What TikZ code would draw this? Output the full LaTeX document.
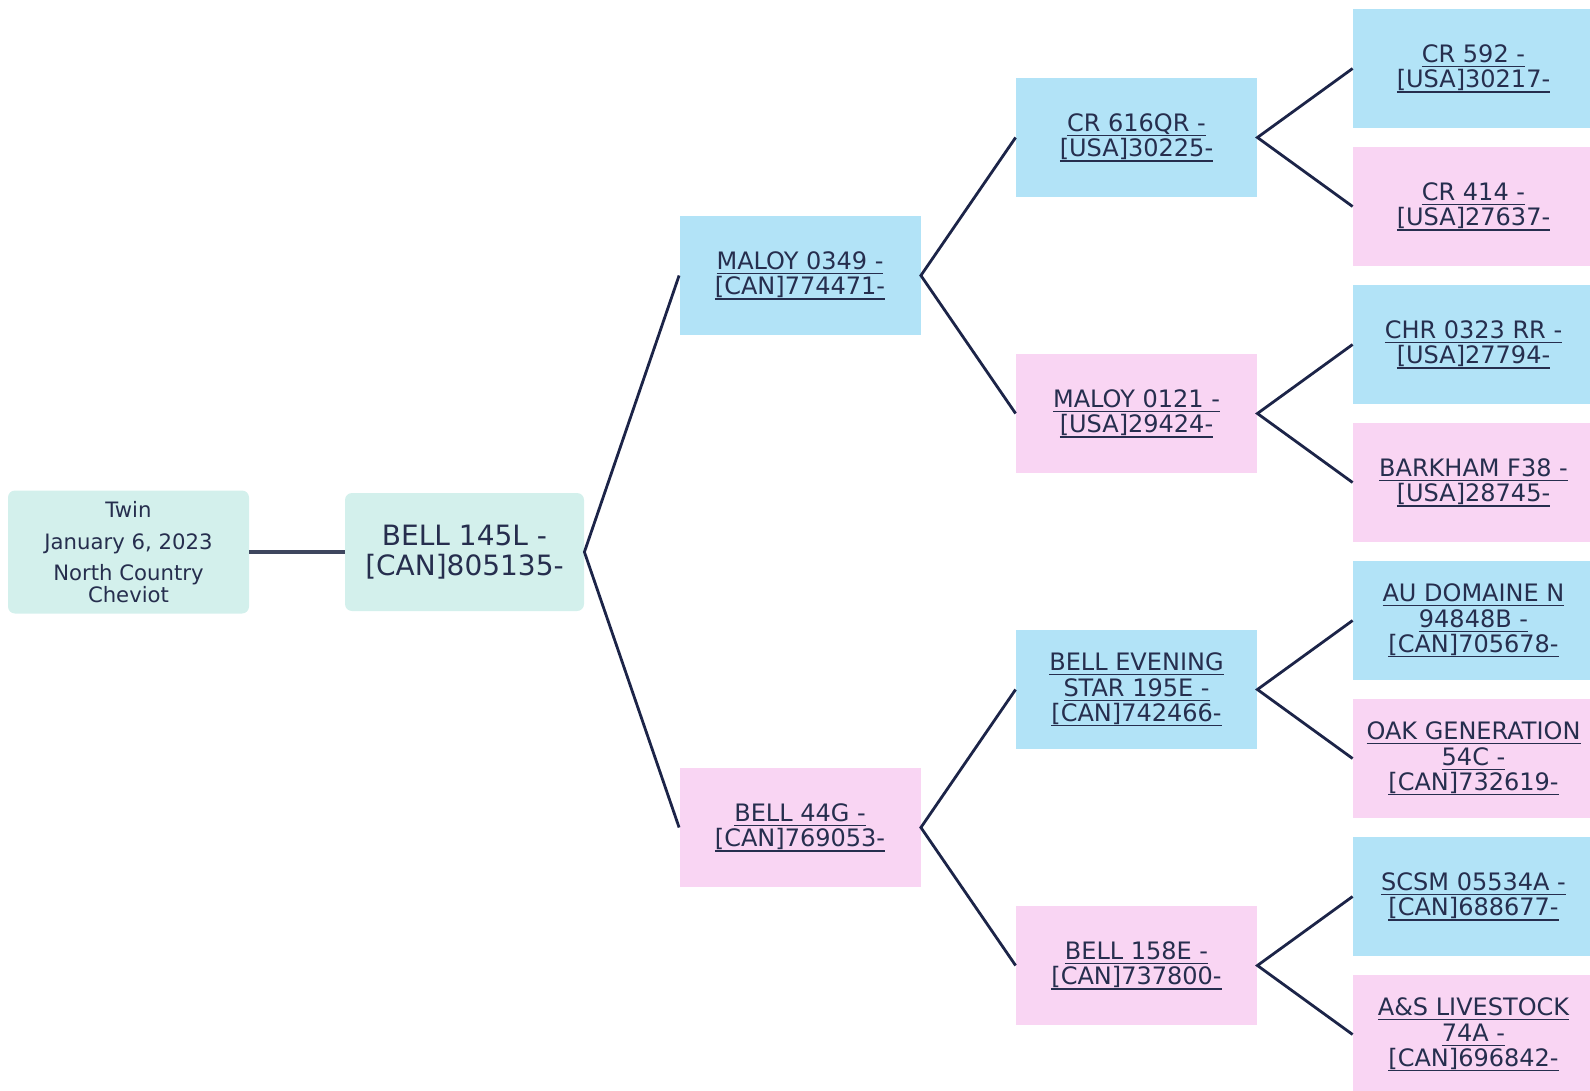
\documentclass[tikz,border=0pt]{standalone}
\usepackage{fontspec}
\setmainfont{DejaVu Sans}
\definecolor{sireblue}{RGB}{178,227,247}
\definecolor{dampink}{RGB}{249,213,243}
\definecolor{subteal}{RGB}{211,240,236}
\definecolor{txt}{RGB}{38,46,78}
\definecolor{linec}{RGB}{28,36,72}
\definecolor{linegray}{RGB}{62,70,94}
\newsavebox\ulbox
\newcommand\ulx[1]{\sbox\ulbox{#1}\rlap{\rule[-2.4pt]{\wd\ulbox}{0.6pt}}\usebox\ulbox}
\tikzset{
  pbox/.style={rectangle, minimum width=120.5pt, minimum height=59.5pt, inner sep=0pt,
    align=center, font=\fontsize{12}{12.7}\selectfont, text=txt},
  sirebox/.style={pbox, fill=sireblue},
  dambox/.style={pbox, fill=dampink},
  rootbox/.style={rectangle, rounded corners=3.5pt, fill=subteal, inner sep=0pt, align=center, text=txt},
  conn/.style={draw=linec, line width=1.4pt},
}
\begin{document}
\begin{tikzpicture}[x=0.5pt, y=-0.5pt]
\useasboundingbox (0,0) rectangle (1590,1091);
% subject and root
\node[rootbox, minimum width=120.5pt, minimum height=61.5pt, font=\fontsize{10.6}{11.2}\selectfont] (sub) at (128.5,552)
  {Twin\\[4.6pt]January 6, 2023\\[4.3pt]North Country\\Cheviot};
\node[rootbox, minimum width=119.5pt, minimum height=59pt, font=\fontsize{14}{15.2}\selectfont] (p) at (464.5,552)
  {BELL 145L -\\\relax[CAN]805135-};
% generation 2
\node[sirebox] (s) at (800,275.5) {\ulx{MALOY 0349 -}\\\ulx{[CAN]774471-}};
\node[dambox]  (d) at (800,827.5) {\ulx{BELL 44G -}\\\ulx{[CAN]769053-}};
% generation 3
\node[sirebox] (ss) at (1136.5,137.5) {\ulx{CR 616QR -}\\\ulx{[USA]30225-}};
\node[dambox]  (sd) at (1136.5,413.5) {\ulx{MALOY 0121 -}\\\ulx{[USA]29424-}};
\node[sirebox] (ds) at (1136.5,689.5) {\ulx{BELL EVENING}\\\ulx{STAR 195E -}\\\ulx{[CAN]742466-}};
\node[dambox]  (dd) at (1136.5,965.5) {\ulx{BELL 158E -}\\\ulx{[CAN]737800-}};
% generation 4
\node[sirebox] (sss) at (1473.5,68.5)  {\ulx{CR 592 -}\\\ulx{[USA]30217-}};
\node[dambox]  (ssd) at (1473.5,206.5) {\ulx{CR 414 -}\\\ulx{[USA]27637-}};
\node[sirebox] (sds) at (1473.5,344.5) {\ulx{CHR 0323 RR -}\\\ulx{[USA]27794-}};
\node[dambox]  (sdd) at (1473.5,482.5) {\ulx{BARKHAM F38 -}\\\ulx{[USA]28745-}};
\node[sirebox] (dss) at (1473.5,620.5) {\ulx{AU DOMAINE N}\\\ulx{94848B -}\\\ulx{[CAN]705678-}};
\node[dambox]  (dsd) at (1473.5,758.5) {\ulx{OAK GENERATION}\\\ulx{54C -}\\\ulx{[CAN]732619-}};
\node[sirebox] (dds) at (1473.5,896.5) {\ulx{SCSM 05534A -}\\\ulx{[CAN]688677-}};
\node[dambox]  (ddd) at (1473.5,1034.5) {\ulx{A\&S LIVESTOCK}\\\ulx{74A -}\\\ulx{[CAN]696842-}};
% connectors
\draw[draw=linegray, line width=2pt] (sub.east) -- (p.west);
\draw[conn] (s.west) -- (p.east) -- (d.west);
\draw[conn] (ss.west) -- (s.east) -- (sd.west);
\draw[conn] (ds.west) -- (d.east) -- (dd.west);
\draw[conn] (sss.west) -- (ss.east) -- (ssd.west);
\draw[conn] (sds.west) -- (sd.east) -- (sdd.west);
\draw[conn] (dss.west) -- (ds.east) -- (dsd.west);
\draw[conn] (dds.west) -- (dd.east) -- (ddd.west);
\end{tikzpicture}
\end{document}
